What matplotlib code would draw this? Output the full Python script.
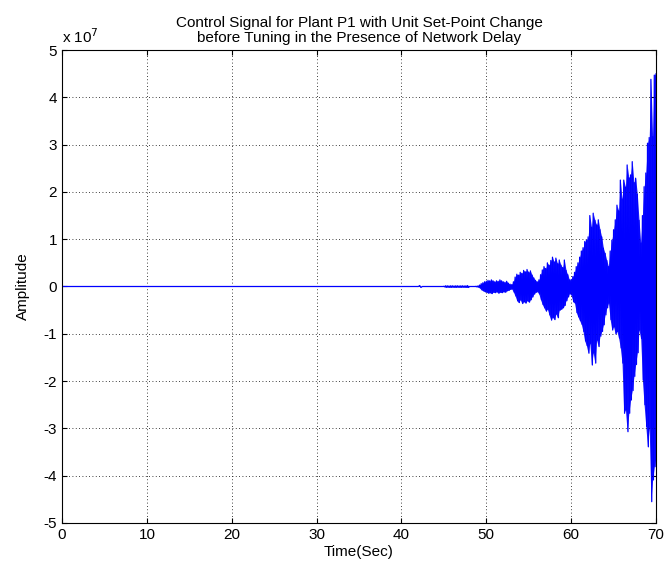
import numpy as np
import matplotlib
matplotlib.use("Agg")
import matplotlib.pyplot as plt

plt.rcParams["font.family"] = ["Liberation Sans", "DejaVu Sans"]
plt.rcParams["font.size"] = 10
plt.rcParams["axes.unicode_minus"] = False

# quiet part of the control signal (x 1e7)
pre_t = [0.0, 42.0, 42.15, 42.3, 42.45, 45.0]
pre_v = [0.0, 0.0, 0.02, -0.02, 0.0, 0.0]

# oscillating part: envelope read every 0.2 s from 45.0 to 70.0 (x 1e7)
env_t = np.round(np.arange(45.0, 70.01, 0.2), 1)
upper = [
    0.005, 0.015, 0.015, 0.012, 0.015,
    0.015, 0.012, 0.015, 0.015, 0.012,
    0.015, 0.015, 0.012, 0.015, 0.02,
    0.0, 0.0, 0.0, 0.0, 0.005,
    0.01, 0.03, 0.06, 0.08, 0.10,
    0.11, 0.13, 0.12, 0.14, 0.12,
    0.10, 0.12, 0.11, 0.14, 0.12,
    0.10, 0.09, 0.11, 0.07, 0.05,
    0.04, 0.10, 0.20, 0.26, 0.24,
    0.30, 0.28, 0.34, 0.31, 0.36,
    0.30, 0.33, 0.24, 0.18, 0.13,
    0.10, 0.14, 0.25, 0.35, 0.42,
    0.38, 0.50, 0.45, 0.55, 0.62,
    0.52, 0.60, 0.48, 0.56, 0.45,
    0.40, 0.56, 0.34, 0.25, 0.14,
    0.15, 0.21, 0.30, 0.42, 0.50,
    0.62, 0.75, 0.82, 0.95, 0.98,
    1.05, 1.50, 1.25, 1.55, 1.40,
    1.30, 1.41, 1.20, 1.05, 0.81,
    0.70, 0.55, 0.42, 0.75, 0.98,
    1.20, 1.41, 1.72, 1.60, 2.25,
    1.85, 2.25, 2.10, 2.57, 2.30,
    2.36, 2.64, 2.20, 2.29, 1.95,
    1.40, 0.92, 1.50, 2.11, 2.40,
    3.03, 3.15, 4.38, 3.17, 4.47,
    4.50,
]
lower = [
    0.005, 0.015, 0.012, 0.015, 0.015,
    0.012, 0.015, 0.015, 0.012, 0.015,
    0.015, 0.012, 0.015, 0.015, 0.02,
    0.0, 0.0, 0.0, 0.0, 0.005,
    0.01, 0.03, 0.07, 0.09, 0.11,
    0.12, 0.14, 0.13, 0.15, 0.12,
    0.13, 0.11, 0.14, 0.12, 0.13,
    0.11, 0.12, 0.09, 0.08, 0.06,
    0.05, 0.12, 0.20, 0.30, 0.34,
    0.28, 0.36, 0.32, 0.35, 0.30,
    0.33, 0.28, 0.22, 0.16, 0.12,
    0.11, 0.16, 0.28, 0.38, 0.45,
    0.52, 0.48, 0.60, 0.71, 0.65,
    0.70, 0.58, 0.66, 0.50, 0.48,
    0.45, 0.40, 0.30, 0.22, 0.15,
    0.18, 0.32, 0.35, 0.55, 0.64,
    0.72, 0.80, 0.95, 1.15, 1.25,
    1.41, 1.20, 1.66, 1.40, 1.62,
    1.13, 1.27, 1.05, 0.95, 0.81,
    0.60, 0.45, 0.35, 0.70, 0.92,
    0.85, 1.00, 0.95, 1.09, 1.30,
    1.62, 2.68, 2.61, 3.07, 2.68,
    2.40, 2.20, 1.90, 1.65, 1.40,
    0.92, 1.10, 1.98, 2.50, 2.96,
    3.39, 3.00, 4.55, 4.09, 3.81,
    3.60,
]

# peaks alternate: positive peak, then negative peak half a step later
osc_t = np.column_stack([env_t, env_t + 0.1]).ravel()
osc_v = np.column_stack([upper, -np.array(lower)]).ravel()
t = np.concatenate([pre_t, osc_t])
u = np.concatenate([pre_v, osc_v])

fig = plt.figure(figsize=(6.67, 5.73), dpi=100)
ax = fig.add_axes([0.093, 0.0873, 0.8905, 0.8254])
# dense oscillation appears as a solid band in the original
ax.fill_between(env_t, upper, -np.array(lower), color=(0, 0, 1),
                linewidth=0, alpha=0.9)
ax.plot(t, u, color=(0, 0, 1), linewidth=0.9)

ax.set_xlim(0, 70)
ax.set_ylim(-5, 5)
ax.set_xticks(range(0, 71, 10))
ax.set_yticks(range(-5, 6))
ax.grid(True, color="black", linestyle=(0, (1, 3)), linewidth=0.6)
ax.tick_params(direction="in", top=True, right=True, labelsize=11)
for s in ax.spines.values():
    s.set_linewidth(0.8)

ax.set_title("Control Signal for Plant P1 with Unit Set-Point Change\n"
             "before Tuning in the Presence of Network Delay",
             fontsize=11, pad=6, linespacing=1.1)
ax.set_xlabel("Time(Sec)", fontsize=11, labelpad=2)
ax.set_ylabel("Amplitude", fontsize=11, labelpad=10)
ax.text(0.0, 1.008, r"x 10$^7$", transform=ax.transAxes, fontsize=11,
        ha="left", va="bottom")

fig.savefig("out.png", dpi=100)
